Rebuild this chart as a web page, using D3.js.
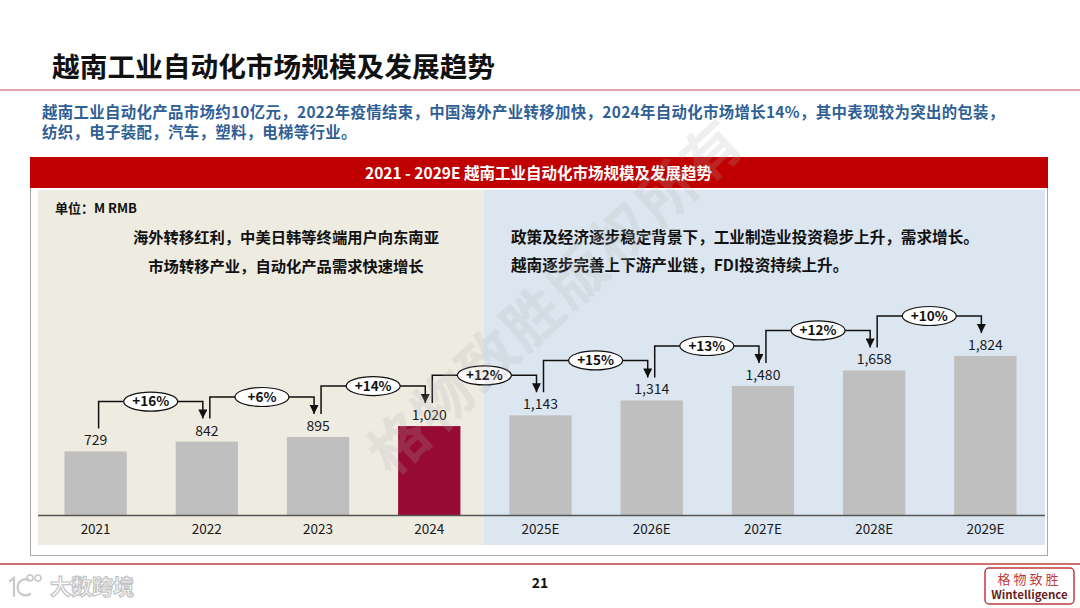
<!DOCTYPE html>
<html>
<head>
<meta charset="utf-8">
<script src="https://cdn.jsdelivr.net/npm/d3@7/dist/d3.min.js"></script>
<style>
  html, body { margin: 0; padding: 0; background: #fff; }
  svg { display: block; font-family: "Noto Sans CJK SC", "Noto Sans", sans-serif; }
</style>
</head>
<body>
<svg id="chart" width="1080" height="608"></svg>
<script>
// ---------- data ----------
const categories = ["2021", "2022", "2023", "2024", "2025E", "2026E", "2027E", "2028E", "2029E"];
const values = [729, 842, 895, 1020, 1143, 1314, 1480, 1658, 1824];
const growthLabels = ["+16%", "+6%", "+14%", "+12%", "+15%", "+13%", "+12%", "+10%"];
const highlightCategory = "2024";

const pageTitle = "越南工业自动化市场规模及发展趋势";
const summaryLines = [
  "越南工业自动化产品市场约10亿元，2022年疫情结束，中国海外产业转移加快，2024年自动化市场增长14%，其中表现较为突出的包装，",
  "纺织，电子装配，汽车，塑料，电梯等行业。"
];
const chartHeader = "2021 - 2029E 越南工业自动化市场规模及发展趋势";
const unitLabel = "单位：M RMB";
const leftNotes = ["海外转移红利，中美日韩等终端用户向东南亚", "市场转移产业，自动化产品需求快速增长"];
const rightNotes = ["政策及经济逐步稳定背景下，工业制造业投资稳步上升，需求增长。", "越南逐步完善上下游产业链，FDI投资持续上升。"];
const watermark = "格物致胜版权所有";

// ---------- drawing ----------
const svg = d3.select("#chart");
const fmt = d3.format(",");

// title
svg.append("text").attr("x", 52).attr("y", 77)
  .attr("font-size", 27.7).attr("font-weight", 700).attr("fill", "#111")
  .text(pageTitle);
svg.append("line").attr("x1", 0).attr("x2", 1080).attr("y1", 90).attr("y2", 90)
  .attr("stroke", "#d98a8a").attr("stroke-width", 1.5);

// summary
summaryLines.forEach((t, i) => {
  svg.append("text").attr("x", 42).attr("y", 117.5 + i * 20.5)
    .attr("font-size", 15.4).attr("font-weight", 700).attr("fill", "#2f5f95")
    .attr("letter-spacing", 0.35)
    .text(t);
});

// chart box
const box = { x: 30, y: 157, w: 1017, h: 398 };
svg.append("rect").attr("x", box.x + 0.5).attr("y", box.y + 0.5).attr("width", box.w).attr("height", box.h)
  .attr("fill", "#fff").attr("stroke", "#a8a8a8").attr("stroke-width", 1);
svg.append("rect").attr("x", box.x).attr("y", box.y).attr("width", box.w + 1).attr("height", 31)
  .attr("fill", "#c00000");
svg.append("text").attr("x", box.x + box.w / 2).attr("y", box.y + 21.5)
  .attr("text-anchor", "middle").attr("font-size", 15.5).attr("font-weight", 700).attr("fill", "#fff")
  .text(chartHeader);

// panels
const panelTop = 190, panelBottom = 545;
const x = d3.scaleBand().domain(categories).range([40, 1041]).paddingInner(0.44).paddingOuter(0.22);
const splitX = 484;
svg.append("rect").attr("x", 38).attr("y", panelTop).attr("width", splitX - 38).attr("height", panelBottom - panelTop)
  .attr("fill", "#eeebe1");
svg.append("rect").attr("x", splitX).attr("y", panelTop).attr("width", 1045 - splitX).attr("height", panelBottom - panelTop)
  .attr("fill", "#dce6f1");

svg.append("text").attr("x", 55).attr("y", 213)
  .attr("font-size", 13).attr("font-weight", 700).attr("fill", "#111").text(unitLabel);
leftNotes.forEach((t, i) => {
  svg.append("text").attr("x", 286).attr("y", 243 + i * 28.5).attr("text-anchor", "middle")
    .attr("font-size", 15.3).attr("font-weight", 700).attr("fill", "#111").text(t);
});
rightNotes.forEach((t, i) => {
  svg.append("text").attr("x", 511).attr("y", 243 + i * 28)
    .attr("font-size", 15.6).attr("font-weight", 700).attr("fill", "#111").text(t);
});

// scales
const baseY = 515;
const y = d3.scaleLinear().domain([0, 1824]).range([baseY, 356]);

// bars
svg.append("g").selectAll("rect").data(categories).join("rect")
  .attr("x", d => x(d))
  .attr("width", x.bandwidth())
  .attr("y", (d, i) => y(values[i]))
  .attr("height", (d, i) => baseY - y(values[i]))
  .attr("fill", d => d === highlightCategory ? "#960a33" : "#bfbfbf");

// value labels
svg.append("g").selectAll("text").data(categories).join("text")
  .attr("x", d => x(d) + x.bandwidth() / 2)
  .attr("y", (d, i) => y(values[i]) - 6)
  .attr("text-anchor", "middle").attr("font-size", 14).attr("fill", "#1a1a1a")
  .text((d, i) => fmt(values[i]));

// axis
const axis = d3.axisBottom(x).tickSize(0).tickPadding(9);
const gAxis = svg.append("g").attr("transform", `translate(0,${baseY})`).call(axis);
gAxis.select(".domain").remove();
gAxis.selectAll("text").attr("font-size", 13.5).attr("fill", "#1a1a1a")
  .attr("font-family", "'Noto Sans CJK SC', 'Noto Sans', sans-serif");
svg.append("line").attr("x1", 38).attr("x2", 1045).attr("y1", baseY + 0.5).attr("y2", baseY + 0.5)
  .attr("stroke", "#555").attr("stroke-width", 1.5);

// arrow marker
const defs = svg.append("defs");
defs.append("marker").attr("id", "arr").attr("viewBox", "0 0 10 10")
  .attr("refX", 5).attr("refY", 10).attr("markerWidth", 9).attr("markerHeight", 10)
  .attr("markerUnits", "userSpaceOnUse").attr("orient", "0")
  .append("path").attr("d", "M0,0 L10,0 L5,10 Z").attr("fill", "#111");

// connectors
const conn = svg.append("g");
growthLabels.forEach((lab, i) => {
  const c0 = categories[i], c1 = categories[i + 1];
  const xs = x(c0) + x.bandwidth() / 2 + 3;
  const xe = x(c1) + x.bandwidth() / 2 - 4;
  const ys = y(values[i]) - 23;
  const tip = y(values[i + 1]) - 23;
  const level = y(values[i + 1]) - 40;
  conn.append("path")
    .attr("d", `M${xs},${ys} V${level} H${xe} V${tip}`)
    .attr("fill", "none").attr("stroke", "#111").attr("stroke-width", 1.5)
    .attr("marker-end", "url(#arr)");
  const cx = (xs + xe) / 2;
  conn.append("ellipse").attr("cx", cx).attr("cy", level).attr("rx", 27).attr("ry", 9.5)
    .attr("fill", "#fff").attr("stroke", "#111").attr("stroke-width", 1.2);
  conn.append("text").attr("x", cx).attr("y", level).attr("dy", "0.36em")
    .attr("text-anchor", "middle").attr("font-size", 13.5).attr("font-weight", 700).attr("fill", "#111")
    .text(lab);
});

// watermark
svg.append("text")
  .attr("transform", "translate(392,478) rotate(-43)")
  .attr("font-size", 58).attr("font-weight", 700)
  .attr("fill", "rgba(175,175,175,0.2)")
  .attr("letter-spacing", 3)
  .text(watermark);

// footer
svg.append("line").attr("x1", 0).attr("x2", 1080).attr("y1", 564).attr("y2", 564)
  .attr("stroke", "#cf7070").attr("stroke-width", 2);
svg.append("text").attr("x", 540).attr("y", 588).attr("text-anchor", "middle")
  .attr("font-size", 14).attr("font-weight", 700).attr("fill", "#111").text("21");

// left logo (icon drawn as shapes)
const logo = svg.append("g").attr("fill", "none").attr("stroke", "#c8c8c8").attr("stroke-width", 2.2)
  .attr("stroke-linecap", "round");
logo.append("path").attr("d", "M10,581 L14,578 L14,596");
logo.append("path").attr("d", "M29,580 A8,8 0 1 0 30,594");
logo.append("circle").attr("cx", 30).attr("cy", 578).attr("r", 3).attr("stroke-width", 1.5);
logo.append("circle").attr("cx", 38).attr("cy", 578).attr("r", 3).attr("stroke-width", 1.5);
svg.append("text").attr("x", 50).attr("y", 594)
  .attr("font-size", 21).attr("font-weight", 700).attr("fill", "#fff")
  .attr("stroke", "#c4c4c4").attr("stroke-width", 1.2).text("大数跨境");

// right logo
svg.append("rect").attr("x", 985).attr("y", 568).attr("width", 89).attr("height", 36).attr("rx", 4)
  .attr("fill", "#fff").attr("stroke", "#c23b3b").attr("stroke-width", 1.5);
svg.append("text").attr("x", 1029.5).attr("y", 584).attr("text-anchor", "middle")
  .attr("font-size", 13).attr("fill", "#c23b3b").attr("letter-spacing", 3).text("格物致胜");
svg.append("text").attr("x", 1029.5).attr("y", 599).attr("text-anchor", "middle")
  .attr("font-size", 11.5).attr("font-weight", 700).attr("fill", "#6a1f1f").text("Wintelligence");
</script>
</body>
</html>
